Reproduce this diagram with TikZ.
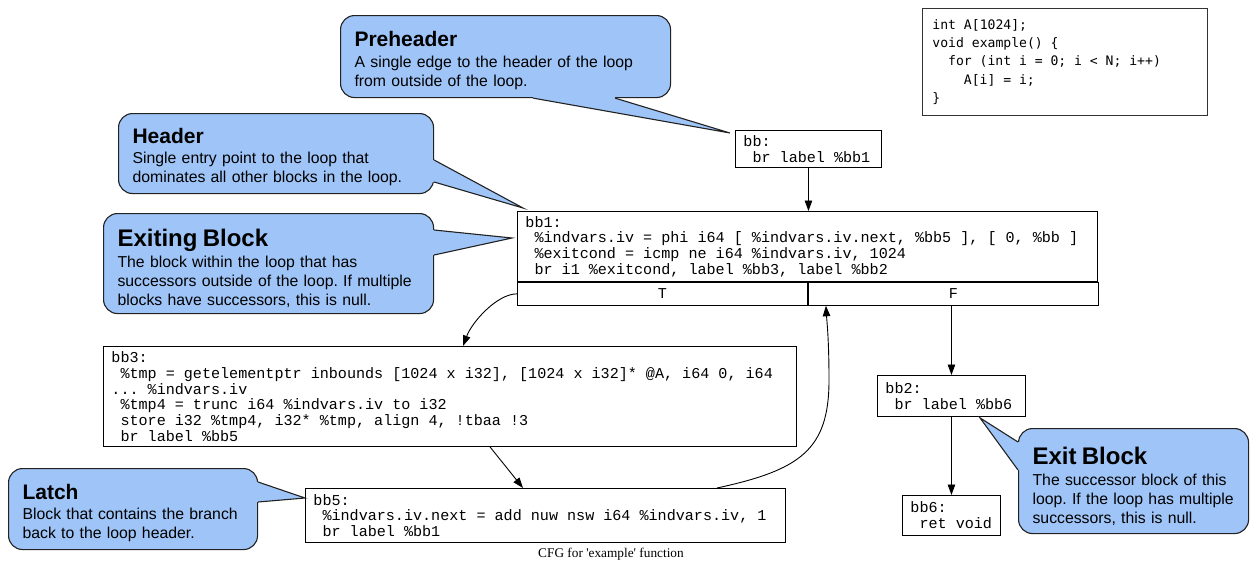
\documentclass[tikz,border=0pt]{standalone}
\usepackage{fontspec}
\usetikzlibrary{calc,arrows.meta,positioning}
\newfontfamily\callfont{Liberation Sans}
\newfontfamily\codefont{Liberation Mono}
\newfontfamily\srcfont{DejaVu Sans Mono}
\newfontfamily\capfont{Liberation Serif}
\definecolor{callblue}{RGB}{159,197,248}
\definecolor{callline}{RGB}{34,34,34}
\newcommand{\calltitle}{\bfseries\fontsize{21}{24}\selectfont\rule{0pt}{23pt}}
\newcommand{\calltitlebig}{\bfseries\fontsize{24}{27}\selectfont\rule{0pt}{27.5pt}}
\newcommand{\bbsp}{\leavevmode\hbox{\ }}
\newcommand{\codespace}{\spaceskip 0.6em\relax}
\frenchspacing

\tikzset{
  bbnode/.style={draw, line width=0.9pt, anchor=north west, inner xsep=8pt, inner ysep=0pt, align=left,
    font=\codefont\fontsize{15.1}{15.7}\selectfont, execute at begin node=\codespace},
  bbcell/.style={draw, line width=0.9pt, anchor=north west, inner sep=0pt, minimum width=290, minimum height=23,
    font=\codefont\fontsize{15.1}{15.7}\selectfont},
  callout/.style={draw=callline, fill=callblue, line width=1.1pt, rounded corners=14pt, anchor=north west,
    inner xsep=9pt, inner ysep=0pt, align=left, execute at begin node={\leftskip 5pt\hyphenpenalty 10000 },
    font=\callfont\fontsize{15.8}{19}\selectfont},
  ptrfill/.style={fill=callblue},
  ptrline/.style={draw=callline, line width=1.1pt},
  edge/.style={->, line width=0.9pt},
  >={Triangle[length=10.5pt,width=7.5pt]}
}

\begin{document}
\begin{tikzpicture}[x=1pt,y=-1pt]
\useasboundingbox (0,0) rectangle (1257,570);

% basic blocks
\node[bbnode, minimum width=146, minimum height=37, text width=130] (bb) at (735,130) {bb:\\\bbsp br label \%bb1};
\node[bbnode, minimum width=580, minimum height=70, text width=564] (bb1) at (517,211) {bb1:\\\bbsp\%indvars.iv = phi i64 [ \%indvars.iv.next, \%bb5 ], [ 0, \%bb ]\\\bbsp\%exitcond = icmp ne i64 \%indvars.iv, 1024\\\bbsp br i1 \%exitcond, label \%bb3, label \%bb2};
\node[bbcell] (bb1T) at (bb1.south west) {T};
\node[bbcell] (bb1F) at (bb1T.north east) {F};
\node[bbnode, minimum width=693, minimum height=100, text width=677] (bb3) at (103,346) {bb3:\\\bbsp\%tmp = getelementptr inbounds [1024 x i32], [1024 x i32]* @A, i64 0, i64\\... \%indvars.iv\\\bbsp\%tmp4 = trunc i64 \%indvars.iv to i32\\\bbsp store i32 \%tmp4, i32* \%tmp, align 4, !tbaa !3\\\bbsp br label \%bb5};
\node[bbnode, minimum width=480, minimum height=54, text width=464] (bb5) at (305,488) {bb5:\\\bbsp\%indvars.iv.next = add nuw nsw i64 \%indvars.iv, 1\\\bbsp br label \%bb1};
\node[bbnode, minimum width=148, minimum height=41, text width=132] (bb2) at (877,375) {bb2:\\\bbsp br label \%bb6};
\node[bbnode, minimum width=98, minimum height=40, text width=82] (bb6) at (902,495) {bb6:\\\bbsp ret void};

% source code
\node[draw=black!80, line width=0.9pt, anchor=north west, minimum width=285, minimum height=107, inner xsep=10pt, inner ysep=0pt, align=left, text width=265,
  font=\srcfont\fontsize{13.1}{18.4}\selectfont, execute at begin node=\codespace] (src) at (922,8) {int A[1024];\\void example() \{\\\bbsp\bbsp for (int i = 0; i < N; i++)\\\bbsp\bbsp\bbsp\bbsp A[i] = i;\\\}};

% edges
\draw[edge] (bb.south) -- (bb.south |- bb1.north);
\draw[edge] (bb1T.west) .. controls +(-20,0) and +(9,-24) .. ($(bb3.north west)+(360,0)$);
\draw[edge] (bb2.north |- bb1F.south) -- (bb2.north);
\draw[edge] ($(bb3.south west)+(387,0)$) -- ($(bb5.north west)+(218,0)$);
\draw[edge] ($(bb5.north west)+(412,0)$) .. controls +(83,-18) and +(0,70) .. (829,380) .. controls +(0,-40) and +(1,16) .. ($(bb1F.south west)+(18,0)$);
\draw[edge] (bb2.south) -- (bb2.south |- bb6.north);

% callouts
\node[callout, minimum width=330, minimum height=82, text width=312] (pre) at (340,15) {{\calltitle Preheader}\\[1.5pt]A single edge to the header of the loop\\from outside of the loop.};
\fill[ptrfill] ($(pre.south west)+(193,-2)$) -- ($(pre.south west)+(193,0)$) -- ($(bb.north west)+(-5,3)$) -- ($(pre.south west)+(275,0)$) -- ($(pre.south west)+(275,-2)$) -- cycle;
\draw[ptrline] ($(pre.south west)+(193,0)$) -- ($(bb.north west)+(-5,3)$) -- ($(pre.south west)+(275,0)$);

\node[callout, minimum width=315, minimum height=80, text width=297] (hdr) at (118,113) {{\calltitle Header}\\[1pt]Single entry point to the loop that\\dominates all other blocks in the loop.};
\fill[ptrfill] ($(hdr.north east)+(-2,47)$) -- ($(hdr.north east)+(0,47)$) -- ($(bb1.north west)+(6,-3)$) -- ($(hdr.north east)+(0,69)$) -- ($(hdr.north east)+(-2,69)$) -- cycle;
\draw[ptrline] ($(hdr.north east)+(0,47)$) -- ($(bb1.north west)+(6,-3)$) -- ($(hdr.north east)+(0,69)$);

\node[callout, minimum width=330, minimum height=100, text width=312] (exg) at (103,213) {{\calltitlebig Exiting Block}\\[2pt]The block within the loop that has\\successors outside of the loop. If multiple\\blocks have successors, this is null.};
\fill[ptrfill] ($(exg.north east)+(-2,17)$) -- ($(exg.north east)+(0,17)$) -- ($(bb1.north west)+(-5,27)$) -- ($(exg.north east)+(0,42)$) -- ($(exg.north east)+(-2,42)$) -- cycle;
\draw[ptrline] ($(exg.north east)+(0,17)$) -- ($(bb1.north west)+(-5,27)$) -- ($(exg.north east)+(0,42)$);

\node[callout, minimum width=249, minimum height=81, text width=231] (latch) at (8,468) {{\calltitle Latch}\\[1.5pt]Block that contains the branch\\back to the loop header.};
\fill[ptrfill] ($(latch.north east)+(-2,14)$) -- ($(latch.north east)+(0,14)$) -- ($(bb5.north west)+(0,10)$) -- ($(latch.north east)+(0,34)$) -- ($(latch.north east)+(-2,34)$) -- cycle;
\draw[ptrline] ($(latch.north east)+(0,14)$) -- ($(bb5.north west)+(0,10)$) -- ($(latch.north east)+(0,34)$);

\node[callout, minimum width=230, minimum height=105, text width=212] (exb) at (1018,428) {{\calltitlebig Exit Block}\\[2.5pt]The successor block of this\\loop. If the loop has multiple\\successors, this is null.};
\fill[ptrfill] ($(exb.north west)+(2,14)$) -- ($(exb.north west)+(0,14)$) -- ($(bb2.south west)+(103,1)$) -- ($(exb.north west)+(0,42)$) -- ($(exb.north west)+(2,42)$) -- cycle;
\draw[ptrline] ($(exb.north west)+(0,14)$) -- ($(bb2.south west)+(103,1)$) -- ($(exb.north west)+(0,42)$);

% caption
\node[font=\capfont\fontsize{13.3}{16}\selectfont] (cap) at (611,554) {CFG for 'example' function};
\end{tikzpicture}
\end{document}
